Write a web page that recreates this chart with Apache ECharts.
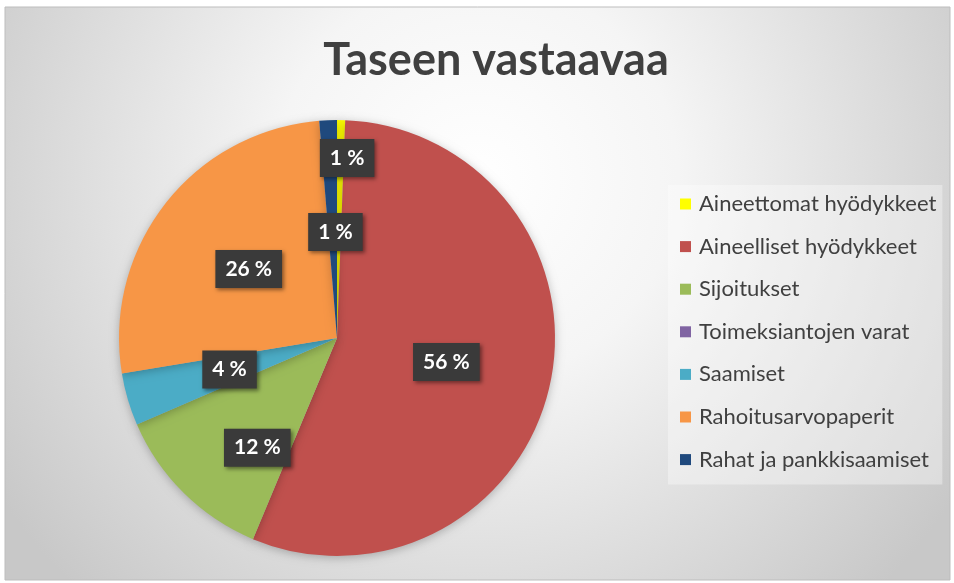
<!DOCTYPE html>
<html>
<head>
<meta charset="utf-8">
<title>Taseen vastaavaa</title>
<script src="https://cdn.jsdelivr.net/npm/echarts@6/dist/echarts.min.js"></script>
<style>
	html, body {margin: 0; padding: 0; background: #fff;}
	#main {width: 954px; height: 583px;}
</style>
</head>
<body>
<div id="main"></div>
<script>
// data (shares of the balance sheet, %)
const categories = [
	'Aineettomat hyödykkeet',
	'Aineelliset hyödykkeet',
	'Sijoitukset',
	'Toimeksiantojen varat',
	'Saamiset',
	'Rahoitusarvopaperit',
	'Rahat ja pankkisaamiset'
];
const values = [0.6, 55.7, 12.2, 0, 3.9, 26.3, 1.3];
const colors = ['#ffff00', '#c0504d', '#9bbb59', '#8064a2', '#4bacc6', '#f79646', '#1f497d'];

const font = 'Lato, "Open Sans", sans-serif';

// Excel moved a couple of labels out of the way
const labelShift = {
	0: {dx: 8, dy: -68},
	2: {dx: -1, dy: 30},
	6: {dx: 3, dy: 6}
};

const chart = echarts.init(document.getElementById('main'), null, {renderer: 'canvas'});

chart.setOption({
	backgroundColor: 'transparent',
	color: colors,
	graphic: [{
		type: 'rect',
		z: -10,
		silent: true,
		shape: {x: 5, y: 7, width: 945, height: 573},
		style: {
			fill: {
				type: 'radial', x: 0.5, y: 0.3, r: 1.0,
				colorStops: [
					{offset: 0, color: '#ffffff'},
					{offset: 0.35, color: '#f5f5f5'},
					{offset: 1, color: '#c8c8c8'}
				]
			},
			stroke: '#bdbdbd',
			lineWidth: 1
		}
	}],
	title: {
		text: 'Taseen vastaavaa',
		left: 491,
		top: 33,
		textAlign: 'center',
		textStyle: {
			fontFamily: font,
			fontWeight: 'bold',
			fontSize: 45,
			color: '#404040'
		}
	},
	legend: {
		orient: 'vertical',
		left: 668,
		top: 185,
		padding: [8, 6, 14, 12],
		backgroundColor: 'rgba(255,255,255,0.35)',
		icon: 'rect',
		itemWidth: 11,
		itemHeight: 11,
		itemGap: 20.6,
		data: categories,
		textStyle: {
			fontFamily: font,
			fontSize: 22,
			lineHeight: 22,
			color: '#404040',
			padding: [0, 0, 0, 3]
		}
	},
	series: [{
		type: 'pie',
		center: [337, 338],
		radius: 218,
		startAngle: 90,
		clockwise: true,
		percentPrecision: 0,
		avoidLabelOverlap: false,
		itemStyle: {
			shadowBlur: 10,
			shadowColor: 'rgba(0,0,0,0.25)',
			shadowOffsetY: 2
		},
		emphasis: {disabled: true},
		label: {
			show: true,
			position: 'inner',
			formatter: '{d} %',
			fontFamily: font,
			fontWeight: 'bold',
			fontSize: 21,
			color: '#ffffff',
			backgroundColor: '#3a3a3a',
			padding: [9, 10, 8, 10],
			shadowColor: 'rgba(0,0,0,0.45)',
			shadowBlur: 4,
			shadowOffsetX: 2,
			shadowOffsetY: 2
		},
		labelLine: {show: false},
		labelLayout: params => labelShift[params.dataIndex] || {},
		data: categories.map((name, i) => ({
			name: name,
			value: values[i],
			label: values[i] === 0 ? {show: false} : undefined
		}))
	}]
});
</script>
</body>
</html>
